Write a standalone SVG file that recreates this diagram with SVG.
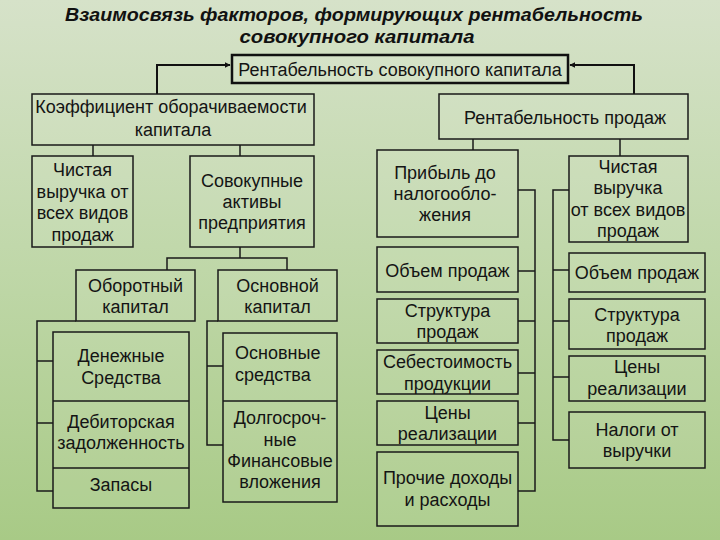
<svg xmlns="http://www.w3.org/2000/svg" width="720" height="540" viewBox="0 0 720 540">
<defs>
<linearGradient id="bg" x1="0" y1="0" x2="0" y2="1">
<stop offset="0" stop-color="#d6e2c9"/>
<stop offset="0.5" stop-color="#bfd7a8"/>
<stop offset="1" stop-color="#a8ca86"/>
</linearGradient>
<marker id="arr" viewBox="0 0 10 10" refX="9" refY="5" markerWidth="6" markerHeight="6" markerUnits="userSpaceOnUse" orient="auto">
<path d="M0,0 L10,5 L0,10 z" fill="#111"/>
</marker>
<style>
.box{fill:#ffffff;fill-opacity:0.08;stroke:#1a1a1a;stroke-width:1.5}
.top{fill:#ffffff;fill-opacity:0.1;stroke:#111;stroke-width:2.5}
.t{font-family:"Liberation Sans",Arial,sans-serif;font-size:18px;fill:#141414;text-anchor:middle}
.ts{font-family:"Liberation Sans",Arial,sans-serif;font-size:18px;fill:#141414;text-anchor:start}
.title{font-family:"Liberation Sans",Arial,sans-serif;font-size:19px;font-weight:bold;font-style:italic;fill:#111;text-anchor:middle}
.ln{fill:none;stroke:#1a1a1a;stroke-width:1.5}
.ar{fill:none;stroke:#111;stroke-width:2}
</style>
</defs>
<rect x="0" y="0" width="720" height="540" fill="url(#bg)"/>
<g id="title">
<text class="title" x="354" y="21" textLength="578" lengthAdjust="spacingAndGlyphs">Взаимосвязь факторов, формирующих рентабельность</text>
<text class="title" x="357" y="43" textLength="235" lengthAdjust="spacingAndGlyphs">совокупного капитала</text>
</g>
<g id="connectors">
<path class="ar" d="M157,94 V65 H230" marker-end="url(#arr)"/>
<path class="ar" d="M634,94 V65 H570" marker-end="url(#arr)"/>
<path class="ln" d="M93,145 V156 M240,145 V156"/>
<path class="ln" d="M240,247 V258 M167,270 V258 H287 V270"/>
<path class="ln" d="M76,321 H37 V491 H53 M37,361 H53 M37,423 H53"/>
<path class="ln" d="M218,321 H207 V445 H223 M207,366 H223"/>
<path class="ln" d="M473,139 V150 M620,139 V156"/>
<path class="ln" d="M518,190 H535 V491 H518 M518,271 H535 M518,321 H535 M518,373 H535 M518,423 H535"/>
<path class="ln" d="M569,190 H553 V440 H569 M553,270 H569 M553,321 H569 M553,377 H569"/>
</g>
<g id="n-top">
<rect class="top" x="232" y="55" width="336" height="28"/>
<text class="t" x="400" y="76">Рентабельность совокупного капитала</text>
</g>
<g id="n-koef">
<rect class="box" x="32" y="94" width="282" height="51"/>
<text class="t" x="171" y="113">Коэффициент оборачиваемости</text>
<text class="t" x="173" y="136">капитала</text>
</g>
<g id="n-vyruchka1">
<rect class="box" x="32" y="156" width="101" height="91"/>
<text class="t" x="82.5" y="176">Чистая</text>
<text class="t" x="82.5" y="197.5">выручка от</text>
<text class="t" x="82.5" y="219">всех видов</text>
<text class="t" x="82.5" y="240.5">продаж</text>
</g>
<g id="n-aktivy">
<rect class="box" x="190" y="156" width="124" height="91"/>
<text class="t" x="252" y="187">Совокупные</text>
<text class="t" x="252" y="208">активы</text>
<text class="t" x="252" y="229">предприятия</text>
</g>
<g id="n-oborotny">
<rect class="box" x="76" y="270" width="119" height="51"/>
<text class="t" x="135.5" y="292">Оборотный</text>
<text class="t" x="135.5" y="313">капитал</text>
</g>
<g id="n-osnovnoy">
<rect class="box" x="218" y="270" width="119" height="51"/>
<text class="t" x="277.5" y="292">Основной</text>
<text class="t" x="277.5" y="313">капитал</text>
</g>
<g id="n-oborotny-items">
<rect class="box" x="53" y="332" width="136" height="176"/>
<path class="ln" d="M53,401 H189 M53,468 H189"/>
<text class="t" x="121" y="362">Денежные</text>
<text class="t" x="121" y="384">Средства</text>
<text class="t" x="121" y="428">Дебиторская</text>
<text class="t" x="121" y="449">задолженность</text>
<text class="t" x="121" y="491">Запасы</text>
</g>
<g id="n-osnovnoy-items">
<rect class="box" x="223" y="333" width="114" height="169"/>
<path class="ln" d="M223,401 H337"/>
<text class="ts" x="235" y="359">Основные</text>
<text class="ts" x="235" y="381">средства</text>
<text class="t" x="280" y="424">Долгосроч-</text>
<text class="t" x="280" y="446">ные</text>
<text class="t" x="280" y="467">Финансовые</text>
<text class="t" x="280" y="488">вложения</text>
</g>
<g id="n-rent-prodazh">
<rect class="box" x="439" y="94" width="249" height="45"/>
<text class="t" x="565" y="124">Рентабельность продаж</text>
</g>
<g id="n-pribyl">
<rect class="box" x="377" y="150" width="141" height="87"/>
<text class="t" x="445" y="179">Прибыль до</text>
<text class="t" x="445" y="200">налогообло-</text>
<text class="t" x="445" y="221">жения</text>
</g>
<g id="n-vyruchka2">
<rect class="box" x="569" y="156" width="119" height="86"/>
<text class="t" x="628" y="173">Чистая</text>
<text class="t" x="628" y="194">выручка</text>
<text class="t" x="628" y="216">от всех видов</text>
<text class="t" x="628" y="237">продаж</text>
</g>
<g id="n-l-obem">
<rect class="box" x="377" y="247" width="141" height="45"/>
<text class="t" x="447.5" y="277">Объем продаж</text>
</g>
<g id="n-l-struktura">
<rect class="box" x="377" y="299" width="141" height="44"/>
<text class="t" x="447.5" y="317">Структура</text>
<text class="t" x="447.5" y="338">продаж</text>
</g>
<g id="n-l-sebest">
<rect class="box" x="377" y="350" width="141" height="44"/>
<text class="t" x="447.5" y="368">Себестоимость</text>
<text class="t" x="447.5" y="390">продукции</text>
</g>
<g id="n-l-ceny">
<rect class="box" x="377" y="401" width="141" height="44"/>
<text class="t" x="447.5" y="419">Цены</text>
<text class="t" x="447.5" y="440">реализации</text>
</g>
<g id="n-l-prochie">
<rect class="box" x="377" y="452" width="141" height="74"/>
<text class="t" x="447.5" y="484">Прочие доходы</text>
<text class="t" x="447.5" y="506">и расходы</text>
</g>
<g id="n-r-obem">
<rect class="box" x="569" y="253" width="136" height="39"/>
<text class="t" x="637" y="279">Объем продаж</text>
</g>
<g id="n-r-struktura">
<rect class="box" x="569" y="299" width="136" height="50"/>
<text class="t" x="637" y="321">Структура</text>
<text class="t" x="637" y="342">продаж</text>
</g>
<g id="n-r-ceny">
<rect class="box" x="569" y="356" width="136" height="45"/>
<text class="t" x="637" y="373">Цены</text>
<text class="t" x="637" y="395">реализации</text>
</g>
<g id="n-r-nalogi">
<rect class="box" x="569" y="412" width="136" height="56"/>
<text class="t" x="637" y="436">Налоги от</text>
<text class="t" x="637" y="457">выручки</text>
</g>
</svg>
